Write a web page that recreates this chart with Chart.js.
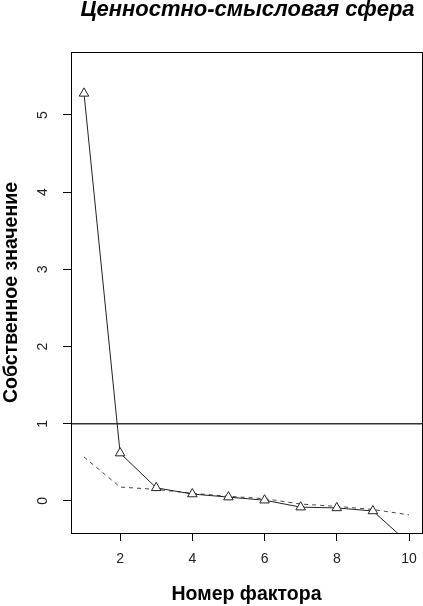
<!DOCTYPE html>
<html>
<head>
<meta charset="utf-8">
<script src="https://cdn.jsdelivr.net/npm/chart.js@4.4.1/dist/chart.umd.min.js"></script>
<style>
    html, body { margin: 0; padding: 0; background: #fff; overflow: hidden; }
    canvas { display: block; }
</style>
</head>
<body>
<canvas id="scree" width="423" height="606"></canvas>
<script>
// Scree plot data
const factors = [1, 2, 3, 4, 5, 6, 7, 8, 9, 10];
const eigenvalues = [5.28, 0.62, 0.17, 0.09, 0.05, 0.01, -0.08, -0.09, -0.13, -0.55];
const simulated = [0.57, 0.18, 0.15, 0.10, 0.06, 0.03, -0.04, -0.07, -0.11, -0.18];
const xTicks = [2, 4, 6, 8, 10];
const yTicks = [0, 1, 2, 3, 4, 5];
const cutoff = 1;
const chartTitle = 'Ценностно-смысловая сфера';
const xTitle = 'Номер фактора';
const yTitle = 'Собственное значение';

const FONT = '"Liberation Sans", Arial, sans-serif';

const rPlot = {
    id: 'rPlot',
    beforeDatasetsDraw(chart) {
        const { ctx, chartArea: a, scales: { y } } = chart;
        const yc = y.getPixelForValue(cutoff);
        ctx.save();
        ctx.strokeStyle = '#333';
        ctx.lineWidth = 1.4;
        ctx.beginPath();
        ctx.moveTo(a.left, yc);
        ctx.lineTo(a.right, yc);
        ctx.stroke();
        ctx.restore();
    },
    afterDraw(chart) {
        const { ctx, chartArea: a, scales: { x, y } } = chart;
        ctx.save();
        // box
        ctx.strokeStyle = '#000';
        ctx.lineWidth = 1;
        ctx.strokeRect(a.left + 0.5, a.top + 0.5, a.right - a.left, a.bottom - a.top);
        // tick labels (R style: y labels parallel to the axis)
        ctx.fillStyle = '#222';
        ctx.font = '14px ' + FONT;
        ctx.textAlign = 'center';
        ctx.textBaseline = 'middle';
        xTicks.forEach(v => ctx.fillText(String(v), x.getPixelForValue(v), a.bottom + 26));
        yTicks.forEach(v => {
            ctx.save();
            ctx.translate(43, y.getPixelForValue(v));
            ctx.rotate(-Math.PI / 2);
            ctx.fillText(String(v), 0, 0);
            ctx.restore();
        });
        // title
        ctx.fillStyle = '#000';
        ctx.font = 'italic bold 22px ' + FONT;
        ctx.fillText(chartTitle, (a.left + a.right) / 2 + 1, 10);
        ctx.restore();
    }
};

new Chart(document.getElementById('scree'), {
    type: 'line',
    data: {
        datasets: [
            {
                label: 'eigen',
                data: factors.map((f, i) => ({ x: f, y: eigenvalues[i] })),
                borderColor: '#222',
                borderWidth: 1,
                pointStyle: 'triangle',
                pointRadius: 5.5,
                pointBorderColor: '#222',
                pointBorderWidth: 1,
                pointBackgroundColor: '#fff',
                tension: 0
            },
            {
                label: 'simulated',
                data: factors.map((f, i) => ({ x: f, y: simulated[i] })),
                borderColor: '#444',
                borderWidth: 1,
                borderDash: [4, 4],
                pointRadius: 0,
                tension: 0
            }
        ]
    },
    options: {
        responsive: false,
        animation: false,
        events: [],
        layout: { autoPadding: false, padding: { top: 52, right: 1, left: 0, bottom: 0 } },
        plugins: { legend: { display: false }, tooltip: { enabled: false }, title: { display: false } },
        scales: {
            x: {
                type: 'linear',
                min: 0.64,
                max: 10.36,
                afterBuildTicks: s => { s.ticks = xTicks.map(v => ({ value: v })); },
                afterFit: s => { s.height = 73; },
                grid: { drawOnChartArea: false, drawTicks: true, tickLength: 8, tickColor: '#000', tickWidth: 1 },
                border: { display: false },
                ticks: { display: false },
                title: { display: true, text: xTitle, font: { family: FONT, size: 19.5, weight: 'bold' }, color: '#000', padding: 0 }
            },
            y: {
                type: 'linear',
                min: -0.415,
                max: 5.816,
                afterBuildTicks: s => { s.ticks = yTicks.map(v => ({ value: v })); },
                afterFit: s => { s.width = 71; },
                grid: { drawOnChartArea: false, drawTicks: true, tickLength: 8, tickColor: '#000', tickWidth: 1 },
                border: { display: false },
                ticks: { display: false },
                title: { display: true, text: yTitle, font: { family: FONT, size: 19.5, weight: 'bold' }, color: '#000', padding: 0 }
            }
        }
    },
    plugins: [rPlot]
});
</script>
</body>
</html>
